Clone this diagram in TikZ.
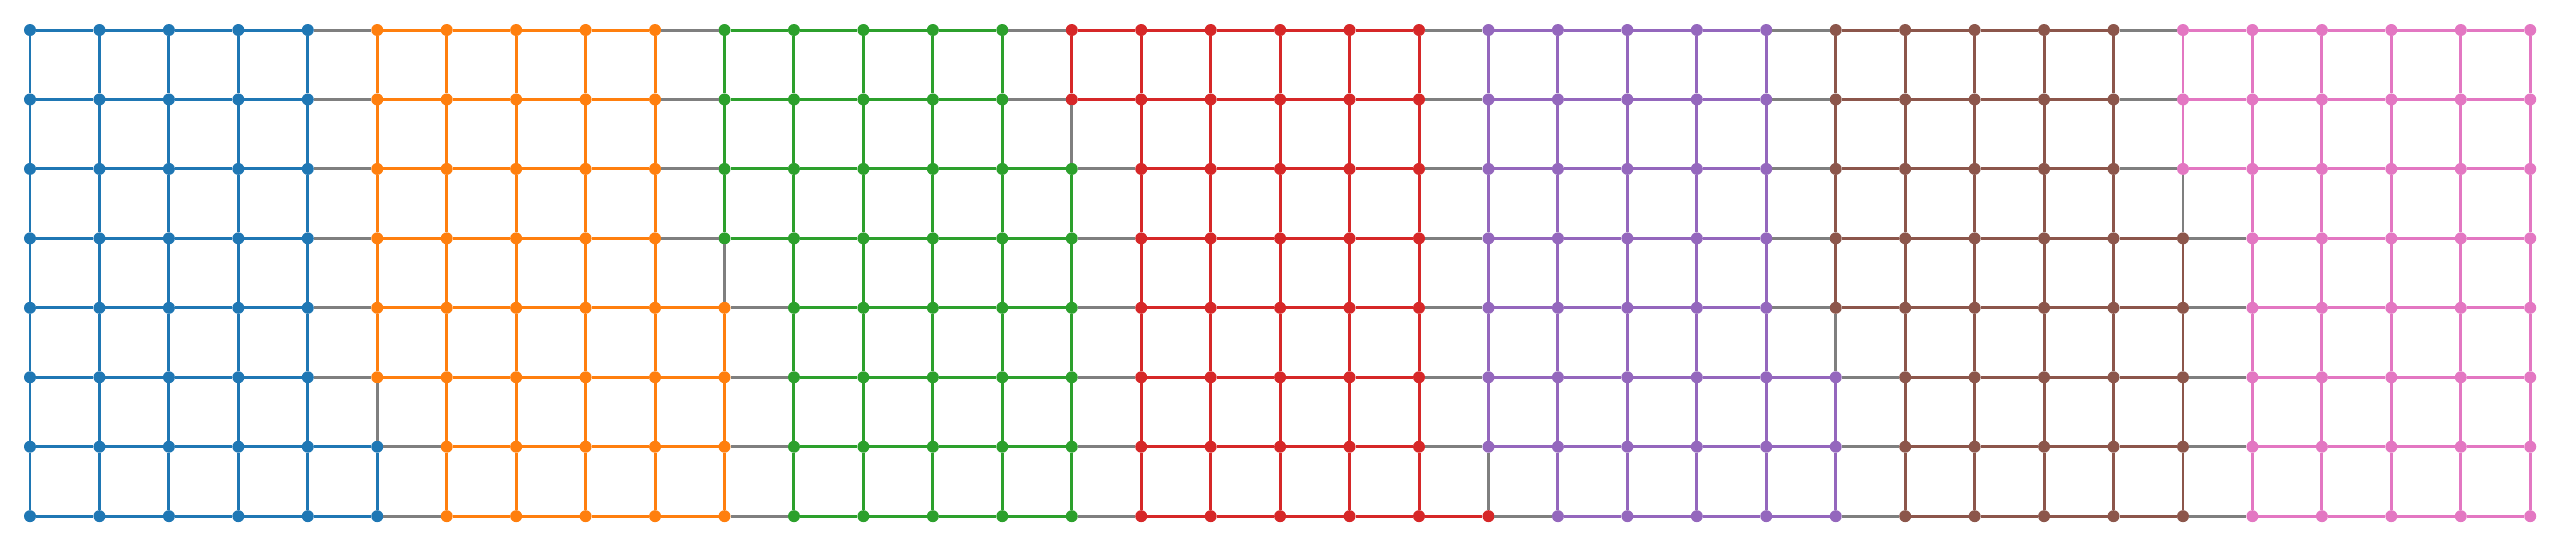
\documentclass[tikz,border=0pt]{standalone}
\usepackage{tikz}
\definecolor{part0}{HTML}{1F77B4}
\definecolor{part1}{HTML}{FF7F0E}
\definecolor{part2}{HTML}{2CA02C}
\definecolor{part3}{HTML}{D62728}
\definecolor{part4}{HTML}{9467BD}
\definecolor{part5}{HTML}{8C564B}
\definecolor{part6}{HTML}{E377C2}
\definecolor{cut}{HTML}{7F7F7F}
\newcount\partidx
% aresta entre dois vertices: cor da parte, ou cinza se corta
\newcommand{\linkvtx}[2]{%
	\edef\pa{\csname pt#1\endcsname}\edef\pb{\csname pt#2\endcsname}%
	\ifnum\pa=\pb\relax \edef\ec{part\pa}\else \def\ec{cut}\fi
	\draw[edge, color=\ec] (n#1) -- (n#2);}

\begin{document}
\begin{tikzpicture}[x=0.6945cm, y=0.6945cm,
	vtx/.style={circle, inner sep=0pt, outer sep=0pt, minimum size=0.12cm},
	edge/.style={line width=0.85pt}]
	\useasboundingbox (-0.30cm,-5.17cm) rectangle (25.31cm,0.30cm);

	% Os vertices, linha a linha (coluna onde comeca cada parte seguinte)
		\foreach \row/\bl in {0/{5,10,15,21,26,31}, 1/{5,10,15,21,26,31},
			2/{5,10,16,21,26,31}, 3/{5,10,16,21,26,32}, 4/{5,11,16,21,26,32},
			5/{5,11,16,21,27,32}, 6/{6,11,16,21,27,32}, 7/{6,11,16,22,27,32}}{
			\foreach \col in {0,...,36}{
				\global\partidx=0
				\foreach \b in \bl {\ifnum\col<\b\else\global\advance\partidx by 1\relax\fi}
				\expandafter\xdef\csname pt\col-\row\endcsname{\the\partidx}
				\edef\pc{part\the\partidx}
				\node[vtx, fill=\pc] (n\col-\row) at (\col,-\row) {};
			}
		}

	% As arestas da grade
		\foreach \row in {0,...,7}{
			\foreach \col [count=\nx] in {0,...,35}{
				\linkvtx{\col-\row}{\nx-\row}
			}
		}
		\foreach \row [count=\ny] in {0,...,6}{
			\foreach \col in {0,...,36}{
				\linkvtx{\col-\row}{\col-\ny}
			}
		}
\end{tikzpicture}
\end{document}
